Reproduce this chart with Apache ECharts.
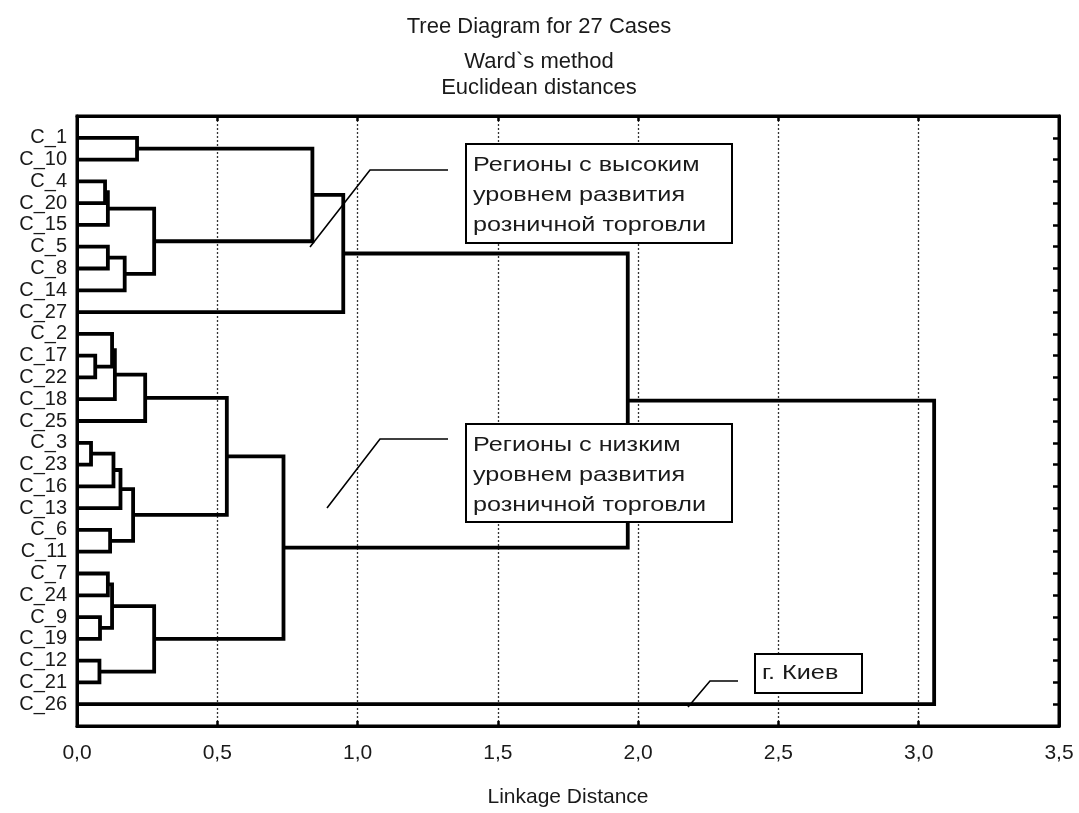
<!DOCTYPE html>
<html><head><meta charset="utf-8">
<script src="https://cdn.jsdelivr.net/npm/echarts@6/dist/echarts.min.js"></script>
<style>html,body{margin:0;padding:0;background:#fff}#c{width:1079px;height:813px}</style>
</head><body><div id="c"></div>
<script>
// leaves in display order (top to bottom)
const leafLabels = ['C_1','C_10','C_4','C_20','C_15','C_5','C_8','C_14','C_27','C_2','C_17','C_22','C_18','C_25','C_3','C_23','C_16','C_13','C_6','C_11','C_7','C_24','C_9','C_19','C_12','C_21','C_26'];
// node ids 0..26 = leaves, 27+k = k-th merge
const mergeLeft   = [0, 2, 28, 5, 30, 29, 27, 33, 10, 9, 36, 37, 14, 39, 40, 18, 41, 38, 20, 22, 45, 24, 47, 44, 34, 51];
const mergeRight  = [1, 3, 4, 6, 7, 31, 32, 8, 11, 35, 12, 13, 15, 16, 17, 19, 42, 43, 21, 23, 46, 25, 48, 49, 50, 26];
const mergeHeight = [0.214, 0.10, 0.11, 0.11, 0.17, 0.275, 0.839, 0.949, 0.065, 0.125, 0.135, 0.243, 0.05, 0.13, 0.155, 0.118, 0.20, 0.534, 0.11, 0.082, 0.125, 0.08, 0.275, 0.736, 1.963, 3.055];
const xMin = 0, xMax = 3.5, xStep = 0.5;
const titleLines = ['Tree Diagram for 27 Cases', 'Ward`s method', 'Euclidean distances'];
const xAxisName = 'Linkage Distance';
const annoHigh = ['Регионы с высоким', 'уровнем развития', 'розничной торговли'];
const annoLow = ['Регионы с низким', 'уровнем развития', 'розничной торговли'];
const annoKiev = 'г. Киев';

const FONT = '"Liberation Sans", Arial, Helvetica, sans-serif';
const TXT = '#1a1a1a';

// node positions
const nodePos = leafLabels.map((_, i) => i);
const nodeH = leafLabels.map(() => 0);
const series = [];
mergeLeft.forEach((a, k) => {
  const b = mergeRight[k], h = mergeHeight[k];
  nodePos.push((nodePos[a] + nodePos[b]) / 2);
  nodeH.push(h);
  series.push({
    type: 'line', symbol: 'none', silent: true, z: 3,
    lineStyle: { color: '#000', width: 3.8, cap: 'butt', join: 'miter' },
    data: [[nodeH[a], nodePos[a]], [h, nodePos[a]], [h, nodePos[b]], [nodeH[b], nodePos[b]]]
  });
});

const chart = echarts.init(document.getElementById('c'), null, { renderer: 'canvas' });

function textEl(x, y, text, size, extra) {
  return Object.assign({
    type: 'text', x: x, y: y, z: 120,
    style: { text: text, font: size + 'px ' + FONT, fill: TXT, textAlign: 'center', textVerticalAlign: 'middle' }
  }, extra || {});
}
function box(x, y, w, h) {
  return { type: 'rect', z: 110, shape: { x: x, y: y, width: w, height: h }, style: { fill: '#fff', stroke: '#000', lineWidth: 2 } };
}
function leader(pts) {
  return { type: 'polyline', z: 110, shape: { points: pts }, style: { stroke: '#000', lineWidth: 1.6, fill: null } };
}
function annoText(x, y, text) {
  return { type: 'text', x: x, y: y, z: 120, scaleX: 1.2,
    style: { text: text, font: '21px ' + FONT, fill: TXT, textAlign: 'left', textVerticalAlign: 'middle' } };
}

const graphics = [
  textEl(539, 27, titleLines[0], 22),
  textEl(539, 62, titleLines[1], 22),
  textEl(539, 88, titleLines[2], 22),
  leader([[448, 170], [370, 170], [310, 247]]),
  box(466, 144, 266, 99),
  annoText(473, 165, annoHigh[0]), annoText(473, 195, annoHigh[1]), annoText(473, 225, annoHigh[2]),
  leader([[448, 439], [380, 439], [327, 508]]),
  box(466, 424, 266, 98),
  annoText(473, 445, annoLow[0]), annoText(473, 475, annoLow[1]), annoText(473, 505, annoLow[2]),
  leader([[738, 681], [710, 681], [688, 707]]),
  box(755, 654, 107, 39),
  annoText(762, 673, annoKiev)
];

const fmtX = v => v.toFixed(1).replace('.', ',');

chart.setOption({
  animation: false,
  backgroundColor: '#fff',
  grid: { left: 77, right: 20, top: 116, bottom: 85, show: true, borderColor: '#000', borderWidth: 3, backgroundColor: 'transparent', z: 5 },
  xAxis: [{
    type: 'value', min: xMin, max: xMax, interval: xStep, position: 'bottom',
    axisLine: { show: true, onZero: false, lineStyle: { color: '#000', width: 3 } },
    axisTick: { show: true, inside: true, length: 5, lineStyle: { color: '#000', width: 2.5 } },
    axisLabel: { formatter: fmtX, fontSize: 21, fontFamily: FONT, color: TXT, margin: 17 },
    splitLine: { show: true, lineStyle: { color: '#333', width: 1.3, type: [2, 2] } },
    name: xAxisName, nameLocation: 'middle', nameGap: 61,
    nameTextStyle: { fontSize: 21, fontFamily: FONT, color: TXT }
  }, {
    type: 'value', min: xMin, max: xMax, interval: xStep, position: 'top',
    axisLine: { show: true, onZero: false, lineStyle: { color: '#000', width: 3 } },
    axisTick: { show: true, inside: true, length: 5, lineStyle: { color: '#000', width: 2.5 } },
    axisLabel: { show: false }, splitLine: { show: false }
  }],
  yAxis: [{
    type: 'value', min: -1, max: 27, interval: 1, inverse: true, position: 'left',
    axisLine: { show: true, onZero: false, lineStyle: { color: '#000', width: 3 } },
    axisTick: { show: false },
    axisLabel: { fontSize: 20, fontFamily: FONT, color: TXT, margin: 10,
      formatter: v => (v >= 0 && v < leafLabels.length) ? leafLabels[v] : '' },
    splitLine: { show: false }
  }, {
    type: 'value', min: -1, max: 27, interval: 1, inverse: true, position: 'right',
    axisLine: { show: true, onZero: false, lineStyle: { color: '#000', width: 3 } },
    axisTick: { show: true, inside: true, length: 6, lineStyle: { color: '#000', width: 2.5 } },
    axisLabel: { show: false }, splitLine: { show: false }
  }],
  series: series,
  graphic: graphics
});
</script>
</body></html>
